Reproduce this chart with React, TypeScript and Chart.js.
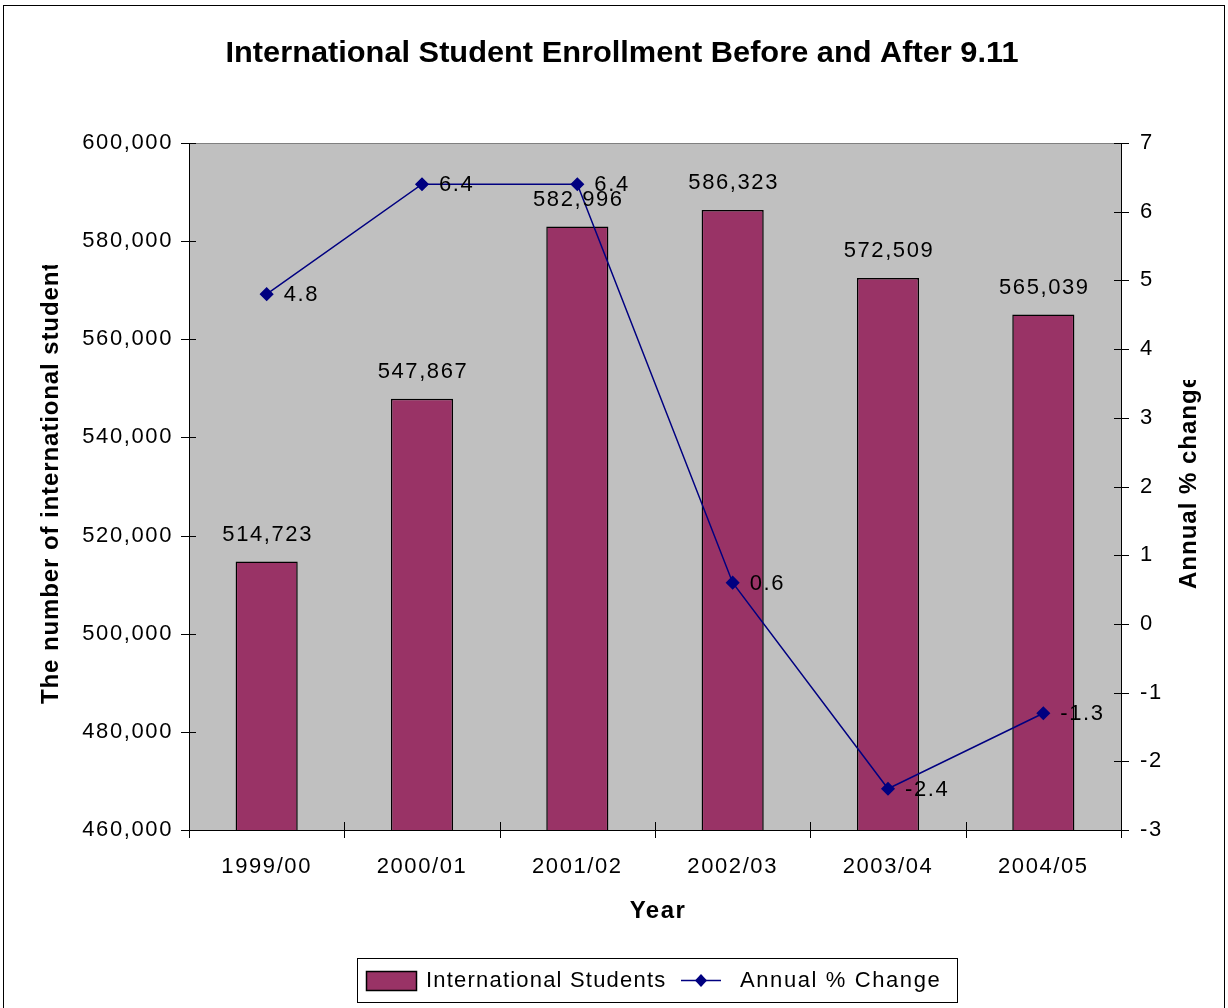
import React, { useEffect, useRef } from "react";
import { Chart, registerables } from "chart.js";

Chart.register(...registerables);

const categories = ["1999/00", "2000/01", "2001/02", "2002/03", "2003/04", "2004/05"];
const students = [514723, 547867, 582996, 586323, 572509, 565039];
const pctChange = [4.8, 6.4, 6.4, 0.6, -2.4, -1.3];

const titleText = "International Student Enrollment Before and After 9.11";
const xTitle = "Year";
const yTitle = "The number of international students";
const y1Title = "Annual % change";
const legendLabels = ["International Students", "Annual % Change"];

const BAR = "#993366";
const LINE = "#000080";
const FONT = "'Liberation Sans', Arial, sans-serif";
const SPACING = "1.6px";

const W = 1228;
const H = 1008;

const decorPlugin = {
  id: "decor",
  beforeDraw(chart: any) {
    const { ctx, chartArea: a } = chart;
    ctx.save();
    ctx.fillStyle = "#ffffff";
    ctx.fillRect(0, 0, W, H);
    ctx.strokeStyle = "#000000";
    ctx.lineWidth = 1;
    ctx.strokeRect(3.5, 5.5, W - 7, H);
    ctx.fillStyle = "#c0c0c0";
    ctx.fillRect(a.left, a.top, a.right - a.left, a.bottom - a.top);
    ctx.strokeStyle = "#808080";
    ctx.strokeRect(a.left + 0.5, a.top + 0.5, a.right - a.left, a.bottom - a.top);
    ctx.restore();
    ctx.letterSpacing = SPACING;
  },
  afterDraw(chart: any) {
    const { ctx, chartArea: a, scales } = chart;
    ctx.save();
    ctx.letterSpacing = SPACING;
    // tick marks crossing the axes
    ctx.strokeStyle = "#000000";
    ctx.lineWidth = 1;
    ctx.beginPath();
    scales.y.ticks.forEach((t: any) => {
      const y = Math.round(scales.y.getPixelForValue(t.value)) + 0.5;
      ctx.moveTo(a.left - 8, y);
      ctx.lineTo(a.left + 7, y);
    });
    scales.y1.ticks.forEach((t: any) => {
      const y = Math.round(scales.y1.getPixelForValue(t.value)) + 0.5;
      ctx.moveTo(a.right - 7, y);
      ctx.lineTo(a.right + 8, y);
    });
    const n = categories.length;
    for (let i = 0; i <= n; i++) {
      const x = Math.round(a.left + ((a.right - a.left) * i) / n) + 0.5;
      ctx.moveTo(x, a.bottom - 8);
      ctx.lineTo(x, a.bottom + 8);
    }
    ctx.stroke();

    // data labels
    ctx.fillStyle = "#000000";
    ctx.font = `22px ${FONT}`;
    ctx.textBaseline = "middle";
    ctx.textAlign = "center";
    const barMeta = chart.getDatasetMeta(0);
    barMeta.data.forEach((el: any, i: number) => {
      ctx.fillText(students[i].toLocaleString("en-US"), el.x + 1, el.y - 27);
    });
    ctx.textAlign = "left";
    const lineMeta = chart.getDatasetMeta(1);
    lineMeta.data.forEach((el: any, i: number) => {
      ctx.fillText(String(pctChange[i]), el.x + 17, el.y + 1);
    });

    // title
    ctx.letterSpacing = "0px";
    ctx.font = `bold 30px ${FONT}`;
    const tw = ctx.measureText(titleText).width;
    const sx = 793 / tw;
    ctx.save();
    ctx.translate(622, 54);
    ctx.scale(sx, 1);
    ctx.textAlign = "center";
    ctx.fillText(titleText, 0, 0);
    ctx.restore();

    // x title
    ctx.letterSpacing = "1.5px";
    ctx.font = `bold 24px ${FONT}`;
    ctx.textAlign = "center";
    ctx.fillText(xTitle, 658, 911);

    // left y title (clipped)
    ctx.save();
    ctx.letterSpacing = "0.9px";
    ctx.beginPath();
    ctx.rect(0, 265, 150, 800);
    ctx.clip();
    ctx.translate(51, 704);
    ctx.rotate(-Math.PI / 2);
    ctx.font = `bold 24px ${FONT}`;
    ctx.textAlign = "left";
    ctx.fillText(yTitle, 0, 0);
    ctx.restore();

    // right y title (clipped)
    ctx.save();
    ctx.letterSpacing = "1px";
    ctx.beginPath();
    ctx.rect(1150, 380, 80, 800);
    ctx.clip();
    ctx.translate(1189, 589);
    ctx.rotate(-Math.PI / 2);
    ctx.font = `bold 24px ${FONT}`;
    ctx.textAlign = "left";
    ctx.fillText(y1Title, 0, 0);
    ctx.restore();

    // legend
    ctx.letterSpacing = "1.2px";
    ctx.strokeStyle = "#000000";
    ctx.lineWidth = 1;
    ctx.strokeRect(357.5, 958.5, 600, 44);
    ctx.fillStyle = BAR;
    ctx.fillRect(366, 971, 50, 19);
    ctx.lineWidth = 1.5;
    ctx.strokeRect(366.5, 971.5, 50, 19);
    ctx.fillStyle = "#000000";
    ctx.font = `22px ${FONT}`;
    ctx.textAlign = "left";
    ctx.fillText(legendLabels[0], 426, 981);
    ctx.strokeStyle = LINE;
    ctx.lineWidth = 1.5;
    ctx.beginPath();
    ctx.moveTo(681, 980.5);
    ctx.lineTo(721, 980.5);
    ctx.stroke();
    ctx.fillStyle = LINE;
    ctx.beginPath();
    ctx.moveTo(701, 974);
    ctx.lineTo(707, 980.5);
    ctx.lineTo(701, 987);
    ctx.lineTo(695, 980.5);
    ctx.closePath();
    ctx.fill();
    ctx.fillStyle = "#000000";
    ctx.letterSpacing = "1.6px";
    ctx.fillText(legendLabels[1], 740, 981);
    ctx.restore();
  },
};

export default function App() {
  const ref = useRef<HTMLCanvasElement | null>(null);
  useEffect(() => {
    document.body.style.margin = "0";
    if (!ref.current) return;
    const chart = new Chart(ref.current, {
      type: "bar",
      data: {
        labels: categories,
        datasets: [
          {
            type: "bar",
            label: legendLabels[0],
            data: students,
            backgroundColor: BAR,
            borderColor: "#000000",
            borderWidth: 1.5,
            barPercentage: 0.4,
            categoryPercentage: 1,
            yAxisID: "y",
            order: 2,
          },
          {
            type: "line",
            label: legendLabels[1],
            data: pctChange,
            borderColor: LINE,
            borderWidth: 1.5,
            backgroundColor: LINE,
            pointStyle: "rectRot",
            pointRadius: 6,
            pointHoverRadius: 6,
            pointBackgroundColor: LINE,
            pointBorderColor: LINE,
            tension: 0,
            fill: false,
            yAxisID: "y1",
            order: 1,
          },
        ],
      },
      options: {
        responsive: false,
        animation: false,
        devicePixelRatio: 1,
        layout: { padding: { top: 143, left: 0, right: 0, bottom: 0 } },
        plugins: {
          legend: { display: false },
          title: { display: false },
          tooltip: { enabled: false },
        },
        scales: {
          x: {
            type: "category",
            grid: { display: false, drawTicks: false },
            border: { display: true, color: "#000000", width: 1 },
            ticks: {
              color: "#000000",
              font: { family: FONT, size: 22 },
              padding: 24,
              maxRotation: 0,
              autoSkip: false,
            },
            afterFit(scale: any) {
              scale.height = 178;
            },
          },
          y: {
            type: "linear",
            position: "left",
            min: 460000,
            max: 600000,
            grid: { display: false, drawTicks: false },
            border: { display: true, color: "#000000", width: 1 },
            ticks: {
              stepSize: 20000,
              color: "#000000",
              font: { family: FONT, size: 22 },
              padding: 16,
              callback: (v: any) => Number(v).toLocaleString("en-US"),
            },
            afterFit(scale: any) {
              scale.width = 189;
            },
          },
          y1: {
            type: "linear",
            position: "right",
            min: -3,
            max: 7,
            grid: { display: false, drawTicks: false },
            border: { display: true, color: "#000000", width: 1 },
            ticks: {
              stepSize: 1,
              color: "#000000",
              font: { family: FONT, size: 22 },
              padding: 19,
            },
            afterFit(scale: any) {
              scale.width = 107;
            },
          },
        },
      } as any,
      plugins: [decorPlugin],
    });
    return () => chart.destroy();
  }, []);
  return (
    <div style={{ width: W, height: H }}>
      <canvas ref={ref} width={W} height={H} style={{ display: "block" }} />
    </div>
  );
}
